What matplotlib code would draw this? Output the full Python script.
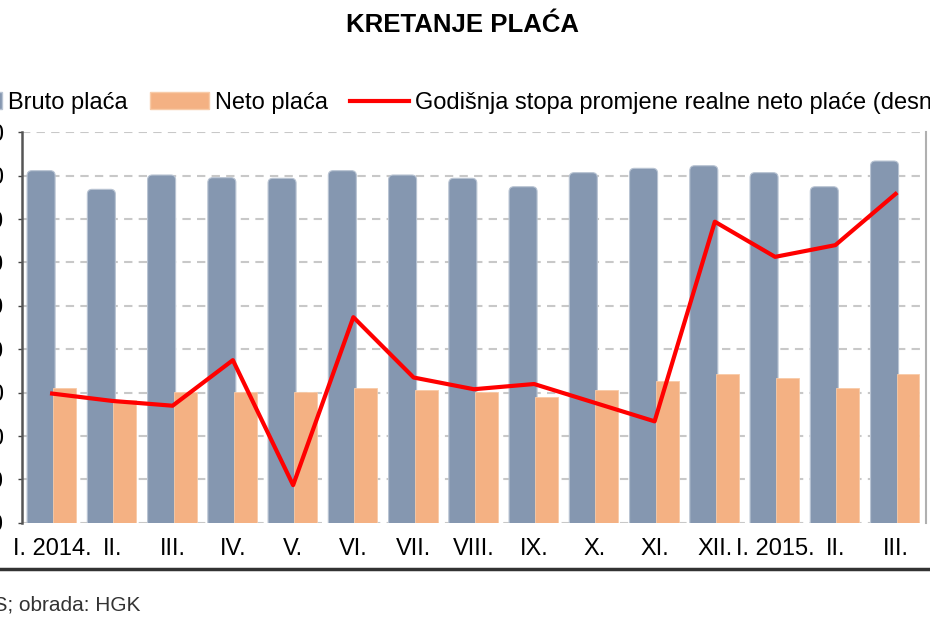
import numpy as np
import matplotlib
matplotlib.use('Agg')
import matplotlib.pyplot as plt
from matplotlib.lines import Line2D
from matplotlib.patches import Patch, FancyBboxPatch

plt.rcParams['font.family'] = ['Liberation Sans Narrow', 'Liberation Sans', 'DejaVu Sans']

months = ['I. 2014.', 'II.', 'III.', 'IV.', 'V.', 'VI.', 'VII.', 'VIII.', 'IX.', 'X.',
          'XI.', 'XII.', 'I. 2015.', 'II.', 'III.']
bruto = [8058, 7843, 8008, 7977, 7970, 8058, 8008, 7970, 7873, 8035,
         8085, 8115, 8035, 7873, 8169]
neto = [5558, 5416, 5505, 5505, 5505, 5558, 5531, 5512, 5454, 5531,
        5638, 5715, 5666, 5558, 5715]
stopa = [-1.02, -1.19, -1.30, -0.25, -3.13, 0.74, -0.65, -0.92, -0.80, -1.23,
         -1.66, 2.94, 2.13, 2.40, 3.58]

C_BRUTO = '#8597b0'
C_NETO = '#f4b183'
C_LINE = '#ff0000'
Y_MIN, Y_MAX = 4000, 8500

fig = plt.figure(figsize=(9.3, 6.2), dpi=100)
ax = fig.add_axes([22 / 930, 1 - 522.9 / 620, 903.7 / 930, 390.6 / 620])
ax.set_xlim(-0.5, len(months) - 0.5)
ax.set_ylim(Y_MIN, Y_MAX)

x = np.arange(len(months))
# bruto bars with rounded tops (bottom corners hidden below the axis)
bars = ax.bar(x - 0.183, bruto, width=0.465, color=C_BRUTO)
aspect = (Y_MAX - Y_MIN) / 390.6 * (903.7 / len(months))
for b in bars:
    bx, bw, top = b.get_x(), b.get_width(), b.get_height()
    b.remove()
    ax.add_patch(FancyBboxPatch((bx, Y_MIN - 100), bw, top - Y_MIN + 100,
                                boxstyle='round,pad=0,rounding_size=0.08',
                                mutation_aspect=aspect, facecolor=C_BRUTO,
                                edgecolor='#b9c4d3', linewidth=0.8, zorder=2))
ax.bar(x + 0.207, neto, width=0.38, color=C_NETO, edgecolor='#f8cba8',
       linewidth=0.6, zorder=3)

ax.set_yticks(np.arange(Y_MIN, Y_MAX + 1, 500))
ax.set_yticklabels([f'{v:,}'.replace(',', '.') for v in range(Y_MIN, Y_MAX + 1, 500)])
ax.yaxis.grid(True, color='#c8c8c8', linestyle=(0, (4, 3)), linewidth=1.5, zorder=0)
ax.set_axisbelow(True)
ax.set_xticks(x)
ax.set_xticklabels(months, fontsize=17)
ax.tick_params(axis='x', length=0, pad=11)
ax.tick_params(axis='y', length=3, width=1, color='#444', pad=10, labelsize=17)

for s in ['top', 'bottom', 'right']:
    ax.spines[s].set_visible(False)
ax.spines['left'].set_color('#555555')
ax.spines['left'].set_linewidth(1.8)

ax2 = ax.twinx()
ax2.plot(x, stopa, color=C_LINE, linewidth=3, zorder=5)
ax2.set_ylim(-4, 5)
ax2.set_yticks(np.arange(-4, 6, 1))
ax2.tick_params(axis='y', length=0, labelright=False)
for s in ['top', 'bottom', 'left']:
    ax2.spines[s].set_visible(False)
ax2.spines['right'].set_color('#b0b0b0')
ax2.spines['right'].set_linewidth(1.5)

fig.text(462 / 930, 1 - 25 / 620, 'KRETANJE PLAĆA', ha='center', va='center',
         fontsize=18.5, fontweight='bold', family=['Liberation Sans', 'DejaVu Sans'])

handles = [Patch(facecolor=C_BRUTO, edgecolor='#b9c4d3'),
           Patch(facecolor=C_NETO, edgecolor='#f8cba8'),
           Line2D([], [], color=C_LINE, linewidth=3)]
labels = ['Bruto plaća', 'Neto plaća', 'Godišnja stopa promjene realne neto plaće (desna os)']
fig.legend(handles, labels, loc='center left', bbox_to_anchor=(-57 / 930, 1 - 103 / 620),
           ncol=3, frameon=False, fontsize=17, handlelength=2.5, handleheight=0.75,
           handletextpad=0.25, columnspacing=0.95, borderpad=0, borderaxespad=0)

fig.add_artist(Line2D([0, 1], [1 - 569 / 620] * 2, color='#333333', linewidth=2.5))
fig.text(140 / 930, 1 - 605 / 620, 'Izvor: DZS; obrada: HGK', ha='right', va='center',
         fontsize=15, color='#333333')

fig.savefig('out.png', dpi=100)
